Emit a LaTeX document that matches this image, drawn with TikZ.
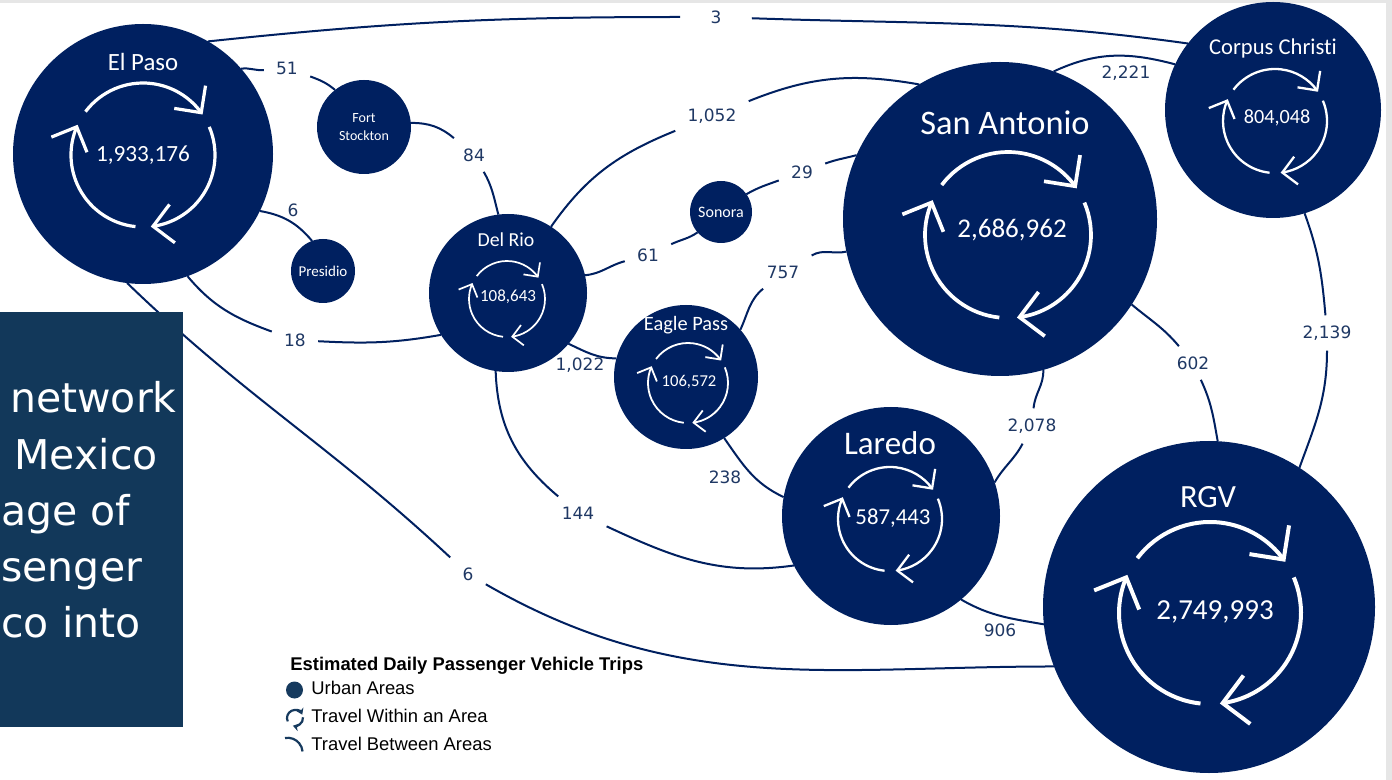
\documentclass[tikz,border=0pt]{standalone}
\usepackage{fontspec}
\setmainfont{Liberation Sans}
\newfontfamily\calib[Ligatures=NoCommon]{Carlito}
\newfontfamily\dejav{DejaVu Sans}
\usetikzlibrary{arrows.meta}

\definecolor{citynavy}{RGB}{0,32,96}
\definecolor{lblnavy}{RGB}{31,56,100}
\definecolor{panelblue}{RGB}{18,56,90}
\definecolor{legblue}{RGB}{22,58,94}
\definecolor{edgegray}{RGB}{230,230,230}

\newcommand\fsz[1]{\fontsize{#1}{#1}\selectfont}

\begin{document}
\begin{tikzpicture}[x=0.5pt,y=0.5pt,
  city/.style={circle, fill=citynavy, inner sep=0pt, outer sep=0pt, draw=none},
  ctext/.style={text=white, inner sep=0pt},
  link/.style={draw=citynavy, line width=1pt},
  lbl/.style={font=\dejav\fontsize{8.5}{10}\selectfont, text=lblnavy, fill=white, inner xsep=6pt, inner ysep=5pt},
  side/.style={lbl, fill=none, inner sep=0pt},
  legtext/.style={font=\fontsize{9.2}{11}\selectfont, inner sep=0pt, anchor=west},
  paneltext/.style={font=\dejav\fontsize{20.5}{24}\selectfont, text=white, inner sep=0pt},
  pics/recycle/.style args={#1/#2}{code={
    \foreach \s/\e in {143/36,23/-82,264/157}{
      \draw[white, line width=#2] (\s:#1) arc[start angle=\s, end angle=\e, radius=#1];
      \draw[white, line width=#2] (\e:#1) ++({\e+45}:{0.38*#1}) -- (\e:#1) -- ++({\e+135}:{0.38*#1});
    }
  }},
  pics/minicycle/.style={code={
    \draw[legblue, line width=1.1pt, -{Stealth[length=3pt,width=4pt]}] (205:8) arc[start angle=205, end angle=25, radius=8];
    \draw[legblue, line width=1.1pt, -{Stealth[length=3pt,width=4pt]}] (5:8) arc[start angle=5, end angle=-105, radius=8];
  }},
]
\useasboundingbox (0,0) rectangle (1392,-780);
\fill[white] (0,0) rectangle (1392,-780);
\fill[edgegray] (0,0) rectangle (1392,-3);
\fill[edgegray] (1386,0) rectangle (1392,-780);

% urban areas
\node[city, minimum size=130pt] (elpaso) at (143,-154) {};
\node[city, minimum size=47pt] (ftst) at (364,-127) {};
\node[city, minimum size=32pt] (presidio) at (323,-271) {};
\node[city, minimum size=79pt] (delrio) at (508,-293) {};
\node[city, minimum size=31pt] (sonora) at (721,-212) {};
\node[city, minimum size=72pt] (eaglepass) at (686,-377) {};
\node[city, minimum size=109pt] (laredo) at (891,-516) {};
\node[city, minimum size=157pt] (sa) at (1000,-219) {};
\node[city, minimum size=108pt] (corpus) at (1273,-110) {};
\node[city, minimum size=166pt] (rgv) at (1209,-607) {};

% travel within each area
\pic at (143,-155) {recycle=72/1.6pt};
\pic at (507,-299) {recycle=38/0.85pt};
\pic at (688,-383) {recycle=40/0.9pt};
\pic at (890,-519) {recycle=52/1.15pt};
\pic at (1008,-235) {recycle=83/1.85pt};
\pic at (1275,-121) {recycle=52/1.15pt};
\pic at (1210,-613) {recycle=91/2pt};

% area names and internal trips
\node[ctext, font=\calib\fsz{12.4}] (elpasoname) at (143,-62) {El Paso};
\node[ctext, font=\calib\fsz{11.6}] (elpasonum) at (143,-155) {1,933,176};
\node[ctext, font=\calib\fontsize{7}{8.6}\selectfont, align=center] (ftstname) at (364,-127) {Fort\\Stockton};
\node[ctext, font=\calib\fsz{7.5}] (presidioname) at (323,-271) {Presidio};
\node[ctext, font=\calib\fsz{9.9}] (delrioname) at (506,-240) {Del Rio};
\node[ctext, font=\calib\fsz{8.5}] (delrionum) at (508,-297) {108,643};
\node[ctext, font=\calib\fsz{8}] (sonoraname) at (721,-212) {Sonora};
\node[ctext, font=\calib\fsz{10.2}] (eaglepassname) at (686,-325) {Eagle Pass};
\node[ctext, font=\calib\fsz{8.3}] (eaglepassnum) at (689,-382) {106,572};
\node[ctext, font=\calib\fsz{16.5}] (laredoname) at (890,-443) {Laredo};
\node[ctext, font=\calib\fsz{11.4}] (laredonum) at (893,-518) {587,443};
\node[ctext, font=\calib\fsz{17.2}] (saname) at (1005,-123) {San Antonio};
\node[ctext, font=\calib\fsz{13.5}] (sanum) at (1012,-230) {2,686,962};
\node[ctext, font=\calib\fsz{11.3}] (corpusname) at (1273,-48) {Corpus Christ\kern0pt i};
\node[ctext, font=\calib\fsz{10.1}] (corpusnum) at (1277,-118) {804,048};
\node[ctext, font=\calib\fsz{16.2}] (rgvname) at (1208,-497) {RGV};
\node[ctext, font=\calib\fsz{14.5}] (rgvnum) at (1215,-612) {2,749,993};

% trip labels on the connectors
\node[lbl, inner xsep=15pt, inner ysep=2pt] (l3) at (716,-17) {3};
\node[lbl] (l51) at (287,-68) {51};
\node[lbl] (l84) at (474,-155) {84};
\node[lbl] (l18) at (295,-340) {18};
\node[lbl] (l6b) at (468,-574) {6};
\node[lbl] (l1052) at (712,-116) {1,052};
\node[lbl] (l29) at (802,-172) {29};
\node[lbl] (l61) at (648,-255) {61};
\node[lbl] (l144) at (578,-513) {144};
\node[lbl] (l757) at (783,-272) {757};
\node[lbl] (l2078) at (1032,-426) {2,078};
\node[lbl] (l602) at (1193,-363) {602};
\node[lbl] (l2139) at (1327,-333) {2,139};

% travel between areas
\draw[link] (elpaso.60) to[out=6,in=180] (l3);
\draw[link] (l3) to[out=-2,in=172] (corpus.142);
\draw[link] (elpaso.41) to[out=8,in=185] (l51);
\draw[link] (l51) to[out=-20,in=140] (ftst.128);
\draw[link] (ftst.5) to[out=0,in=140] (l84);
\draw[link] (l84) to[out=-60,in=105] (delrio.97);
\draw[link] (elpaso.-26) to[out=-10,in=130] (presidio.110);
\draw[link] (elpaso.-70) to[out=-50,in=160] (l18);
\draw[link] (l18) to[out=-3,in=190] (delrio.212);
\draw[link] (elpaso.-97) to[out=-44,in=137] (l6b);
\draw[link] (l6b) to[out=-30,in=180] (rgv.201);
\draw[link] (delrio.57) to[out=55,in=202] (l1052);
\draw[link] (l1052) to[out=22,in=170] (sa.121);
\draw[link] (sonora.35) to[out=30,in=200] (l29);
\draw[link] (l29) to[out=20,in=195] (sa.156);
\draw[link] (delrio.13) to[out=5,in=195] (l61);
\draw[link] (l61) to[out=25,in=215] (sonora.221);
\draw[link] (delrio.-40) to[out=-25,in=180] (eaglepass.165);
\draw[link] (delrio.-99) to[out=-88,in=140] (l144);
\draw[link] (l144) to[out=-25,in=188] (laredo.207);
\draw[link] (eaglepass.41) to[out=65,in=220] (l757);
\draw[link] (l757) to[out=30,in=192] (sa.192);
\draw[link] (eaglepass.-58) to[out=-55,in=155] (laredo.170);
\draw[link] (sa.-74) to[out=-88,in=85] (l2078);
\draw[link] (l2078) to[out=-118,in=60] (laredo.18);
\draw[link] (sa.-33) to[out=-40,in=130] (l602);
\draw[link] (l602) to[out=-65,in=100] (rgv.87);
\draw[link] (sa.70) to[out=25,in=165] (corpus.155);
\draw[link] (corpus.-73) to[out=-70,in=95] (l2139);
\draw[link] (l2139) to[out=-90,in=70] (rgv.57);
\draw[link] (laredo.-50) to[out=-30,in=170] (rgv.186);

% labels set beside their connectors
\node[side] (l6a) at (293,-210) {6};
\node[side] (l1022) at (580,-365) {1,022};
\node[side] (l238) at (725,-477) {238};
\node[side] (l2221) at (1126,-73) {2,221};
\node[side] (l906) at (1000,-630) {906};

% text panel
\node[fill=panelblue, minimum width=91.5pt, minimum height=207.5pt, inner sep=0pt, outer sep=0pt, anchor=north west] (panel) at (0,-312) {};
\begin{scope}
  \clip (panel.north west) rectangle (panel.south east);
  \node[paneltext, anchor=base east] (pl1) at (177,-413) {network};
  \node[paneltext, anchor=base east] (pl2) at (158,-469) {Mexico};
  \node[paneltext, anchor=base west] (pl3) at (1,-525) {age of};
  \node[paneltext, anchor=base west] (pl4) at (1,-581) {senger};
  \node[paneltext, anchor=base west] (pl5) at (1,-637) {co into};
\end{scope}

% legend
\node[legtext, font=\bfseries\fontsize{9.2}{11}\selectfont] (legtitle) at (290,-666) {Estimated Daily Passenger Vehicle Trips};
\node[circle, fill=legblue, minimum size=8.5pt, inner sep=0pt] (legdot) at (294.5,-690) {};
\node[legtext] (legurban) at (311,-688) {Urban Areas};
\pic at (295,-718) {minicycle};
\node[legtext] (legwithin) at (311,-716) {Travel Within an Area};
\coordinate (legarcstart) at (285,-738);
\draw[legblue, line width=1.1pt] (legarcstart) arc[start angle=100, end angle=5, radius=15];
\node[legtext] (legbetween) at (311,-744) {Travel Between Areas};
\end{tikzpicture}
\end{document}
